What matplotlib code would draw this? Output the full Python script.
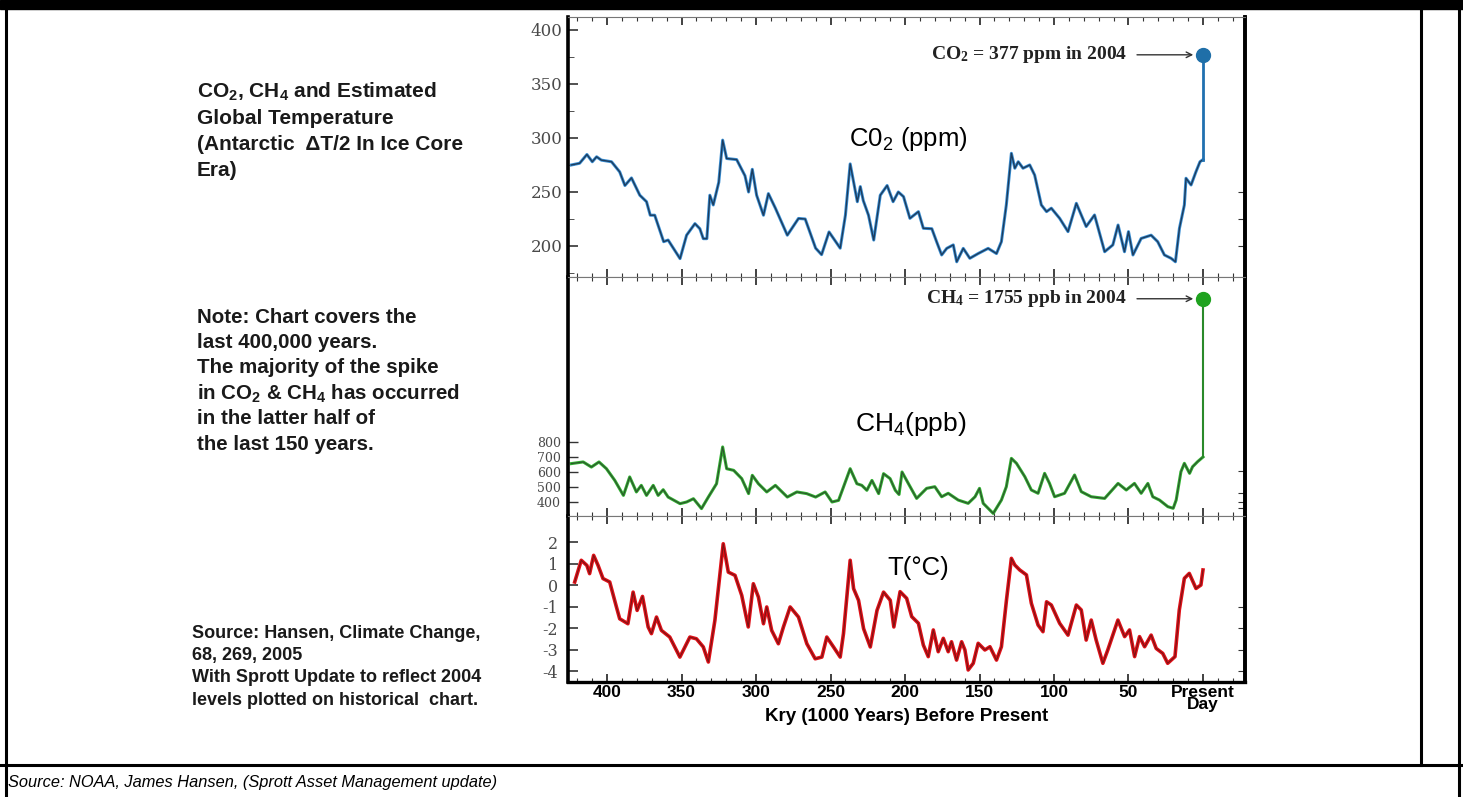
import matplotlib.pyplot as plt
from matplotlib.lines import Line2D
from matplotlib.patches import Rectangle
from matplotlib.ticker import MultipleLocator, FixedLocator

plt.rcParams["font.family"] = ["Liberation Sans", "DejaVu Sans"]
plt.rcParams["axes.unicode_minus"] = False

# ice core records, thousand years before present
co2_kyr = [424, 418.4, 413.5, 409.9, 407, 403.8, 397, 391.5, 388, 383.6, 378, 373.5,
           371, 368, 362, 359, 351, 346.6, 341, 337.7, 335.4, 333, 331, 328.7, 325,
           322.4, 319.7, 313, 307.4, 305, 303.6, 302.5, 299.6, 295, 291.7, 287, 279,
           271.5, 267, 260, 256, 251, 243.5, 240, 236.8, 232, 230, 228, 224.5, 221,
           216.6, 212, 208, 204.5, 201, 196.7, 191, 187.7, 182, 178.8, 175.4, 172,
           167.6, 165.3, 160.9, 156.5, 150.9, 144.2, 138.6, 135.3, 132, 128.6, 126.3,
           124, 120.8, 116.3, 113, 108.5, 105, 101.8, 96.2, 90.6, 85, 81.7, 78.4, 72.8,
           66, 60.5, 57, 52.7, 50, 47, 41.5, 34.8, 30.4, 25.9, 21.4, 18.5, 15.8, 12.5,
           11.4, 8, 4.7, 2, 0]
co2_ppm = [275, 276.6, 284.7, 278, 282.6, 279.5, 278, 268.6, 256, 263, 247, 241,
           228.5, 228.5, 204, 205.5, 188.3, 210, 220.7, 216, 206.8, 206.8, 247, 238, 259,
           298, 281, 280, 265, 250, 262, 271, 247, 228.5, 248.5, 235, 210,
           225.5, 225, 198, 192, 213, 198, 228.5, 276, 241, 255, 242, 228.5, 205.5,
           247, 256, 241, 250, 245.7, 225.6, 231.8, 216.4, 216, 204, 191.7, 197.8,
           201, 185.4, 197.8, 188.6, 193, 197.8, 193, 204, 238, 285.8, 272,
           278, 272, 275, 265.7, 238, 231.8, 235, 225.6, 213.3, 239.5, 228.7, 218, 228.7,
           194.7, 201, 219.4, 194.7, 213.3, 191.7, 207, 210, 204, 191.7, 188.6, 185.4, 216.4, 238,
           262.7, 256.5, 268.8, 278, 280]

ch4_kyr = [424, 416, 410.5, 405.4, 400.4, 394.8, 389, 384.8, 380.3, 377, 373.5, 369,
           365.7, 362.3, 359, 351, 346.6, 342, 336.6, 332, 326.5, 322.4, 319.7, 315,
           309.6, 305, 302.5, 298.4, 292.8, 287, 279, 272.6, 266, 260, 253.6, 249,
           244.6, 241.3, 236.8, 232.3, 229, 225.6, 222.2, 217.7, 214.4, 210, 206.5,
           204, 202, 197.8, 192.2, 185.5, 180, 175.4, 171, 164.3, 157.6, 153, 150,
           147.5, 140.8, 135.3, 132, 128.6, 125.2, 119.6, 115.2, 110.7, 106.3, 103,
           99.6, 92.9, 86.2, 81.7, 75, 66, 57, 51.5, 46, 41.5, 37, 33.7, 29.2, 23.6,
           20, 18, 14.8, 12.5, 9, 7, 3.6, 0]
ch4_ppb = [656, 667, 633, 667, 622, 544, 444, 567, 467, 511, 444, 511,
           444, 482, 433, 389, 400, 422, 356, 433, 522, 767, 622, 611,
           556, 456, 578, 522, 467, 511, 433, 467, 456, 433, 467, 400,
           411, 500, 622, 522, 511, 478, 544, 456, 589, 556, 478,
           450, 600, 524, 424, 491, 502, 435, 458, 413, 391, 435, 491,
           391, 324, 413, 502, 691, 658, 569, 480, 458, 591, 524,
           435, 458, 580, 469, 435, 424, 524, 480, 524, 458, 524, 435, 413, 369,
           358, 413, 602, 658, 591, 635, 669, 700]

temp_kyr = [421.7, 417.3, 413.5, 411.7, 409, 406, 402.7, 398.2, 393.7, 391.5, 386,
            382.5, 379.8, 376.2, 372.4, 370.2, 366.8, 363.5, 357.9, 351.1, 344.4, 340,
            335.4, 332, 327.6, 322, 318.6, 314.1, 309.6, 305.2, 301.8, 298.4, 295,
            292.8, 289.5, 285, 281.6, 277.1, 271.5, 265.9, 260.3, 255.8, 252.5, 248,
            243.5, 241.3, 236.8, 234.5, 231.2, 227.8, 223.3, 218.8, 214.4, 209.9,
            207.5, 203.3, 198.9, 195.5, 191, 187.7, 184.4, 181, 177.7, 174.3, 171,
            168.8, 165.4, 162, 159.8, 157.6, 154.2, 150.9, 146.4, 143, 138.6, 135.3,
            131.9, 128.6, 126.3, 123, 118.5, 115.2, 110.7, 107.4, 105, 101.8, 96.2,
            90.6, 85, 81.7, 78.4, 75, 71.7, 67.2, 63.9, 57.1, 52.6, 49.3, 45.9, 42.6,
            39.2, 34.8, 31.4, 27, 23.7, 18.8, 15.9, 12.5, 9.2, 4.7, 1.4, 0]
temp_c = [0.14, 1.15, 0.91, 0.53, 1.38, 0.91, 0.30, 0.14, -1.02, -1.57, -1.80,
          -0.33, -1.18, -0.53, -1.95, -2.26, -1.49, -2.11, -2.42, -3.35, -2.42, -2.5,
          -2.88, -3.58, -1.64, 1.92, 0.60, 0.45, -0.48, -1.95, 0.06, -0.56, -1.80,
          -1.02, -2.11, -2.73, -1.95, -1.02, -1.49, -2.73, -3.43, -3.35, -2.42, -2.88,
          -3.35, -2.26, 1.15, -0.17, -0.71, -2.03, -2.88, -1.18, -0.33, -0.71,
          -1.95, -0.31, -0.62, -1.47, -1.78, -2.79, -3.33, -2.09, -3.10, -2.48, -3.10,
          -2.64, -3.49, -2.64, -3.02, -3.95, -3.64, -2.71, -3.02, -2.87, -3.49, -2.87,
          -0.70, 1.24, 0.93, 0.70, 0.47, -0.85, -1.86, -2.17, -0.78, -0.93, -1.78,
          -2.33, -0.93, -1.16, -2.56, -1.63, -2.56, -3.64, -3.02, -1.63, -2.40, -2.09, -3.33, -2.40,
          -2.87, -2.33, -2.95, -3.18, -3.64, -3.33, -1.16, 0.31, 0.54, -0.16, 0.0, 0.70]

# 2004 measurements
co2_2004 = 377
ch4_2004 = 1755

x_ticks = [400, 350, 300, 250, 200, 150, 100, 50, 0]
x_labels = ["400", "350", "300", "250", "200", "150", "100", "50", "Present\nDay"]

W, H = 1463, 797
fig = plt.figure(figsize=(W / 100, H / 100), dpi=100)


def fx(x):
    return x / W


def fy(y):
    return 1 - y / H


# page frame
fig.add_artist(Rectangle((0, fy(9)), 1, 9 / H, transform=fig.transFigure,
                         color="black", zorder=0))
for xs, ys in [([6, 6], [9, 797]), ([1421, 1421], [9, 765]),
               ([1459, 1459], [9, 797]), ([0, 1463], [765, 765])]:
    fig.add_artist(Line2D([fx(v) for v in xs], [fy(v) for v in ys],
                          transform=fig.transFigure, color="black", lw=2.2))

left, right = 568, 1245
ax1 = fig.add_axes([fx(left), fy(277), (right - left) / W, 260 / H])
ax2 = fig.add_axes([fx(left), fy(516), (right - left) / W, 239 / H], sharex=ax1)
ax3 = fig.add_axes([fx(left), fy(682), (right - left) / W, 166 / H], sharex=ax1)

ax1.set_xlim(426.2, -28.2)
ax1.set_ylim(171.3, 412)
ax2.set_ylim(306.7, 1900)
ax3.set_ylim(-4.51, 3.21)

# curves: coloured halo with a dark core line
ax1.plot(co2_kyr, co2_ppm, color="#3a8fd4", lw=2.2, solid_joinstyle="round")
ax1.plot(co2_kyr, co2_ppm, color="#1a3350", lw=1.0, alpha=0.9)
ax1.plot([co2_kyr[-1], 0], [co2_ppm[-1], co2_2004], color="#2070b0", lw=2)
ax1.plot([0], [co2_2004], "o", color="#1f6fa8", ms=10)

ax2.plot(ch4_kyr, ch4_ppb, color="#30b030", lw=2.2, solid_joinstyle="round")
ax2.plot(ch4_kyr, ch4_ppb, color="#2f3f2f", lw=0.8, alpha=0.85)
ax2.plot([ch4_kyr[-1], 0], [ch4_ppb[-1], ch4_2004], color="#2a8a2a", lw=1.5)
ax2.plot([0], [ch4_2004], "o", color="#1fa21f", ms=10)

ax3.plot(temp_kyr, temp_c, color="#e01018", lw=2.6, solid_joinstyle="round")
ax3.plot(temp_kyr, temp_c, color="#6a1414", lw=0.8, alpha=0.85)

for ax in (ax1, ax2, ax3):
    ax.xaxis.set_major_locator(FixedLocator(x_ticks))
    ax.xaxis.set_minor_locator(MultipleLocator(10))
    ax.tick_params(axis="x", which="both", direction="in", top=True, bottom=True,
                   labelbottom=False, color="#333333")
    ax.tick_params(axis="x", which="major", length=6, width=1.3)
    ax.tick_params(axis="x", which="minor", length=3, width=0.8)
    ax.tick_params(axis="y", which="both", direction="in", color="#333333")
    for side in ("left", "right"):
        ax.spines[side].set_linewidth(2.6)
        ax.spines[side].set_color("black")
    for side in ("top", "bottom"):
        ax.spines[side].set_linewidth(0.8)
        ax.spines[side].set_color("#777777")

ax3.spines["bottom"].set_linewidth(2.4)
ax3.spines["bottom"].set_color("black")
ax3.tick_params(axis="x", which="major", labelbottom=True, pad=2)
ax3.set_xticklabels(x_labels, fontsize=12.5, fontweight="bold", linespacing=0.8)
ax3.set_xlabel("Kry (1000 Years) Before Present", fontsize=13.5,
               fontweight="bold", labelpad=-3)

ax1.set_yticks([200, 250, 300, 350, 400])
ax1.yaxis.set_minor_locator(MultipleLocator(25))
ax1.tick_params(axis="y", which="major", length=7, width=1.2, labelsize=12,
                labelcolor="#4a4a4a", pad=4)
ax1.tick_params(axis="y", which="minor", length=4)

ax2.set_yticks([400, 500, 600, 700, 800])
ax2.tick_params(axis="y", which="major", length=7, width=1.0, labelsize=9,
                labelcolor="#4a4a4a", pad=5)

ax3.set_yticks([-4, -3, -2, -1, 0, 1, 2])
ax3.tick_params(axis="y", which="major", length=7, width=1.2, labelsize=11.5,
                labelcolor="#4a4a4a", pad=7)

for ax in (ax1, ax2, ax3):
    for lab in ax.get_yticklabels():
        lab.set_family("DejaVu Serif")

# short ticks on the right edge
for ax, ticks in ((ax1, [200, 225, 250]), (ax2, [360, 400, 460, 610]),
                  (ax3, [-4, -3, -2, -1])):
    sec = ax.secondary_yaxis("right")
    sec.set_yticks(ticks)
    sec.tick_params(direction="in", length=5, labelright=False, color="#333333")
    sec.spines["right"].set_linewidth(2.6)

# series titles
fig.text(fx(849), fy(139), "C0$\\mathregular{_2}$ (ppm)", fontsize=18.5,
         va="center", ha="left")
fig.text(fx(855), fy(424), "CH$\\mathregular{_4}$(ppb)", fontsize=19,
         va="center", ha="left")
fig.text(fx(887), fy(568), "T(\u00b0C)", fontsize=18.5, va="center", ha="left")

# 2004 call-outs with arrows to the present-day points
fig.canvas.draw()
for ax, val, label in ((ax1, co2_2004, "CO$\\mathregular{_2}$ = 377 ppm in 2004"),
                       (ax2, ch4_2004, "CH$\\mathregular{_4}$ = 1755 ppb in 2004")):
    ypix = ax.transData.transform((0, val))[1]
    fig.text(fx(1127), ypix / H, label, family="Liberation Serif",
             fontweight="bold", fontsize=14, ha="right", va="center",
             color="#222222")
    ax.annotate("", xy=(0, val), xycoords="data", xytext=(1137, ypix),
                textcoords="figure pixels",
                arrowprops=dict(arrowstyle="->", lw=1, color="#333333",
                                shrinkA=0, shrinkB=7))

# side notes
notes_top = ["CO$\\mathregular{_2}$, CH$\\mathregular{_4}$ and Estimated",
             "Global Temperature",
             "(Antarctic  \u0394T/2 In Ice Core",
             "Era)"]
for i, line in enumerate(notes_top):
    fig.text(fx(197), fy(92 + 26 * i), line, fontsize=15, fontweight="bold",
             va="center", ha="left", color="#1a1a1a")

notes_mid = ["Note: Chart covers the",
             "last 400,000 years.",
             "The majority of the spike",
             "in CO$\\mathregular{_2}$ & CH$\\mathregular{_4}$ has occurred",
             "in the latter half of",
             "the last 150 years."]
for i, line in enumerate(notes_mid):
    fig.text(fx(197), fy(317 + 25.5 * i), line, fontsize=14.8, fontweight="bold",
             va="center", ha="left", color="#1a1a1a")

notes_src = ["Source: Hansen, Climate Change,",
             "68, 269, 2005",
             "With Sprott Update to reflect 2004",
             "levels plotted on historical  chart."]
for i, line in enumerate(notes_src):
    fig.text(fx(192), fy(633 + 22.5 * i), line, fontsize=13, fontweight="bold",
             va="center", ha="left", color="#1a1a1a")

fig.text(fx(8), fy(782), "Source: NOAA, James Hansen, (Sprott Asset Management update)",
         fontsize=11.8, style="italic", va="center", ha="left")

fig.savefig("out.png", dpi=100)
